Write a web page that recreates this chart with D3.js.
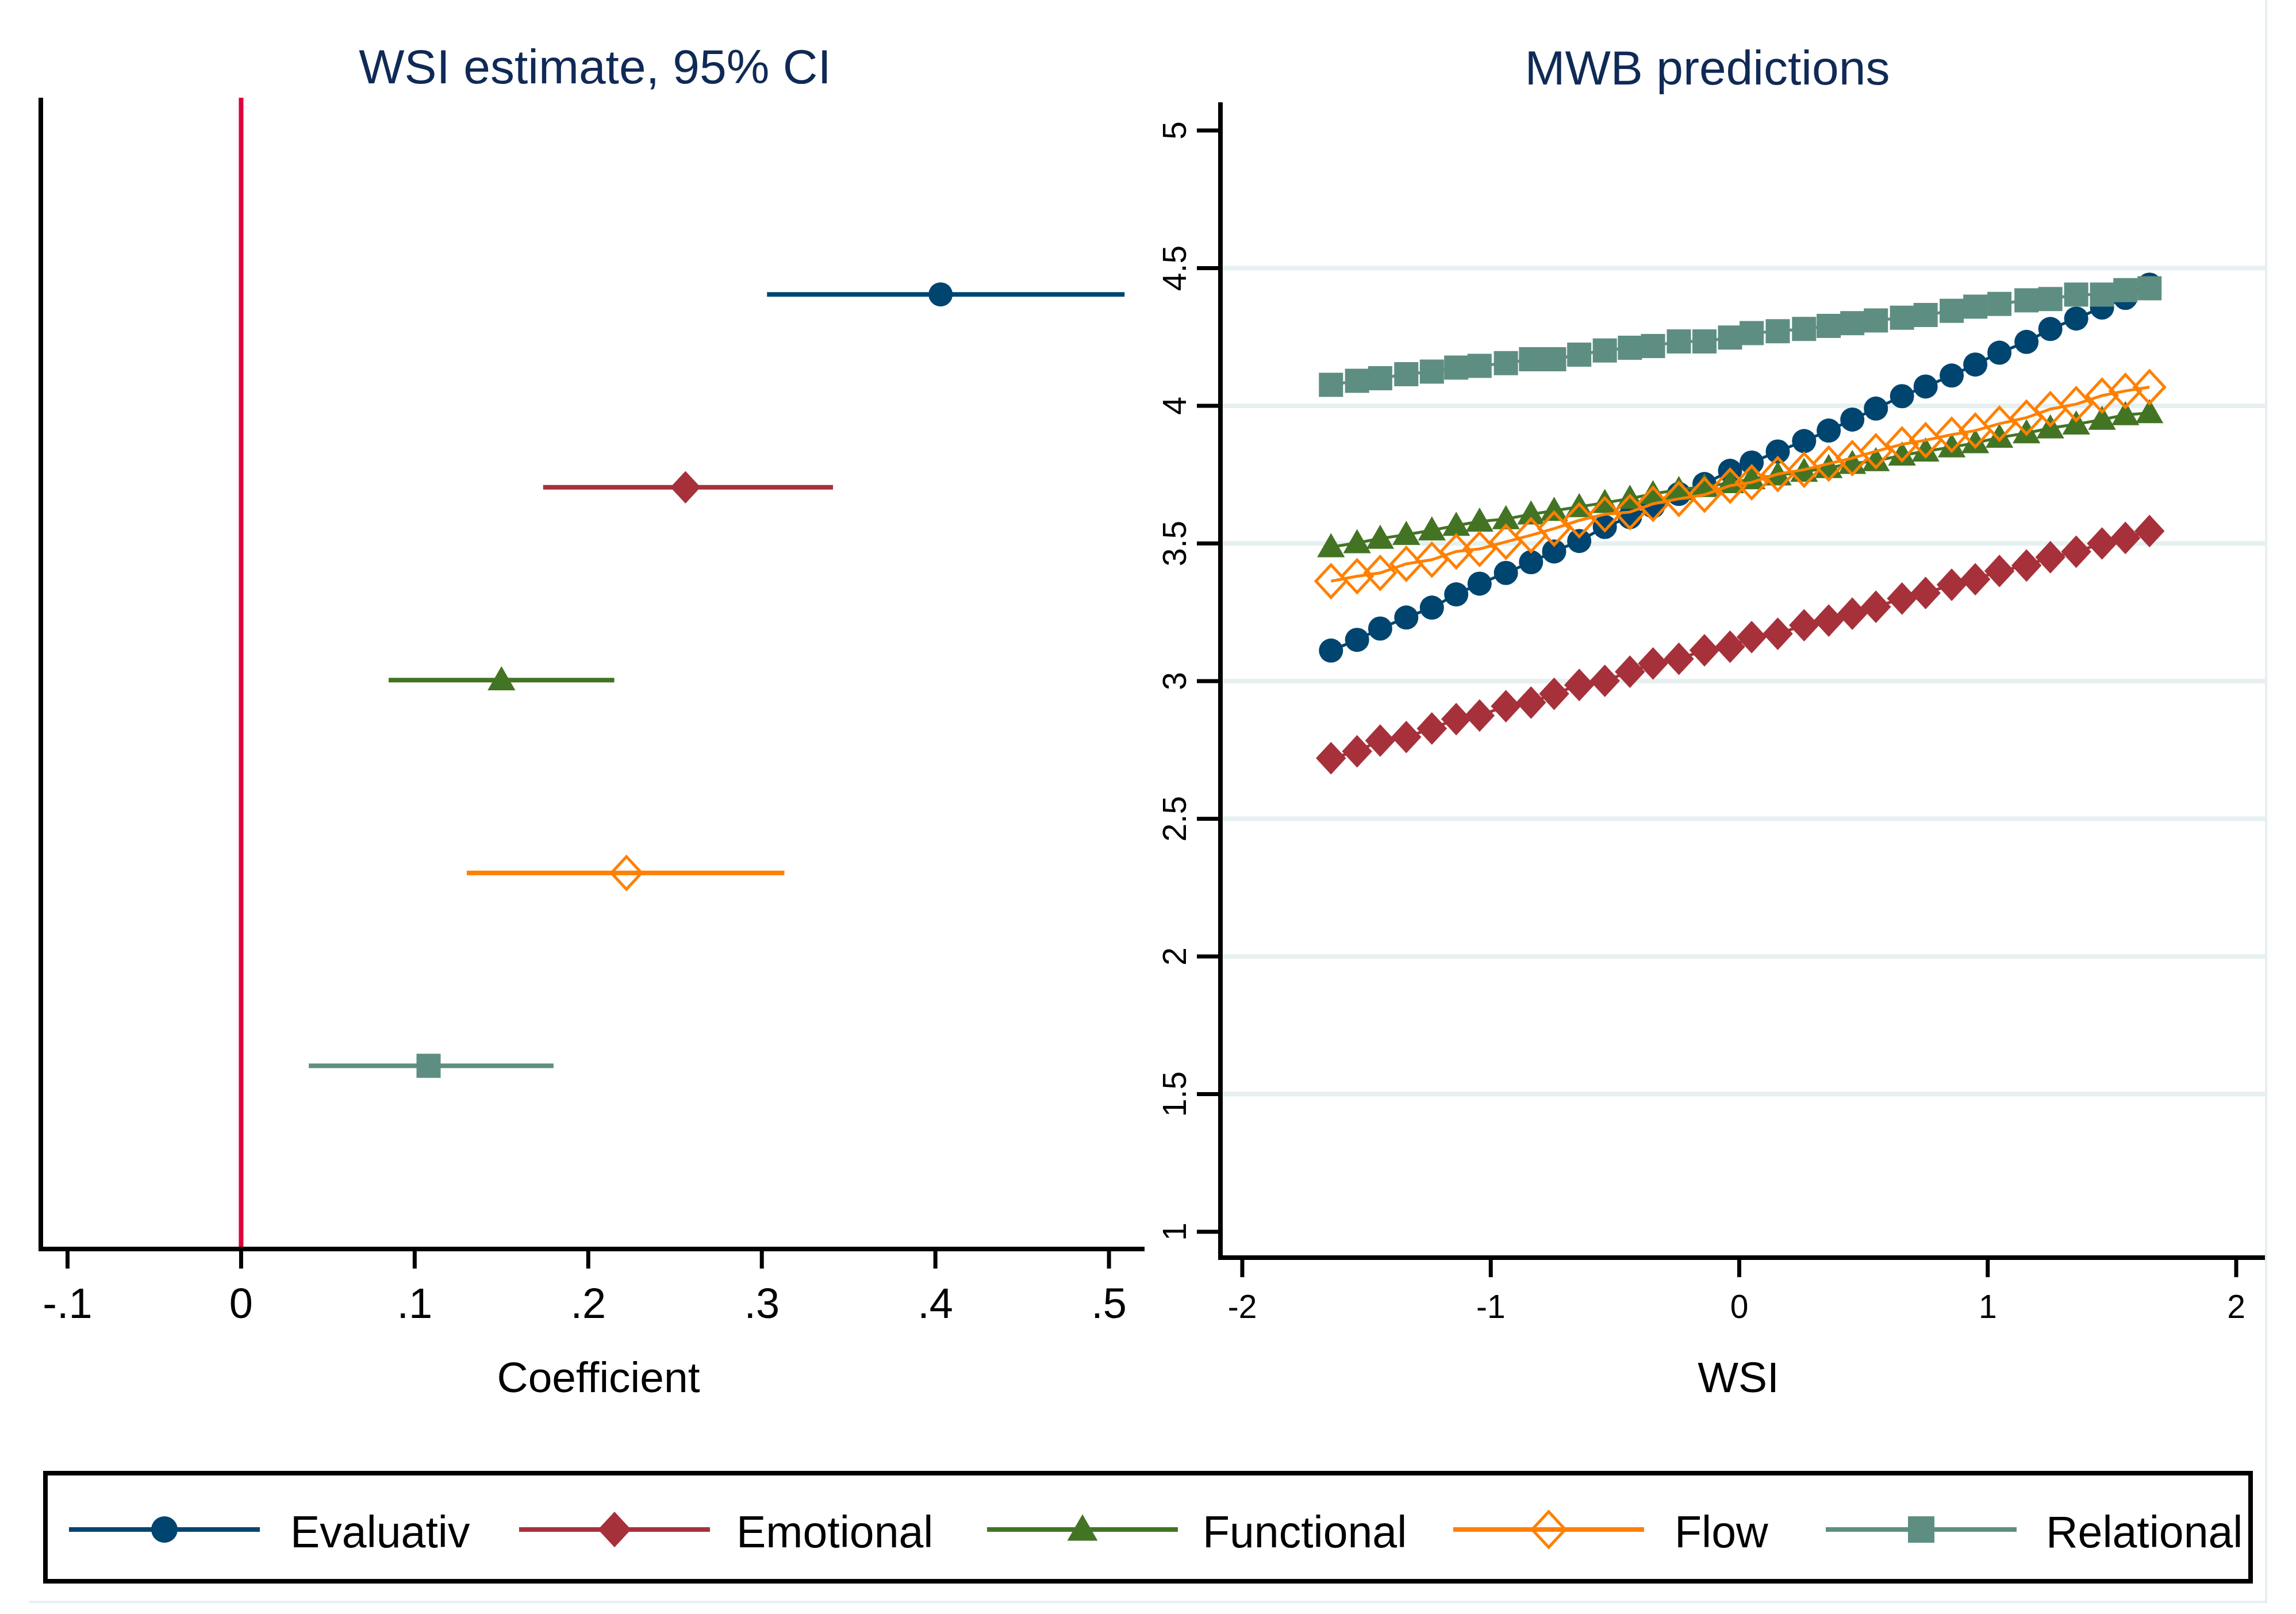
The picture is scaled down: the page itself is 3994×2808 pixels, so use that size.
<!DOCTYPE html>
<html>
<head>
<meta charset="utf-8">
<script src="https://cdn.jsdelivr.net/npm/d3@7"></script>
<style>
  body { margin: 0; background: #fff; }
  text { font-family: "Liberation Sans", Arial, sans-serif; }
</style>
</head>
<body>
<svg id="chart" width="3994" height="2808"></svg>
<script>
const measures = ["Evaluativ", "Emotional", "Functional", "Flow", "Relational"]
const colors = ["#00456f", "#a6313b", "#437424", "#ff8000", "#5e8e82"]
const shapes = ["circle", "diamond", "triangle", "hollow", "square"]

// left panel: WSI coefficient with 95% CI
const coef = [0.403, 0.256, 0.150, 0.222, 0.108]
const ciLow = [0.303, 0.174, 0.085, 0.130, 0.039]
const ciHigh = [0.509, 0.341, 0.215, 0.313, 0.180]
const coefTicks = [-0.1, 0, 0.1, 0.2, 0.3, 0.4, 0.5]

// right panel: predicted MWB over WSI
const wsi = [-1.643, -1.538, -1.445, -1.34, -1.237, -1.139, -1.045, -0.939, -0.838, -0.745,
  -0.644, -0.541, -0.44, -0.347, -0.243, -0.14, -0.037, 0.05, 0.155, 0.261,
  0.36, 0.455, 0.55, 0.655, 0.75, 0.855, 0.95, 1.047, 1.156, 1.252, 1.356, 1.46, 1.554, 1.651]
const evaluativ = [3.111, 3.150, 3.191, 3.231, 3.267, 3.315, 3.354, 3.393, 3.432, 3.471,
  3.509, 3.560, 3.596, 3.635, 3.680, 3.716, 3.764, 3.794, 3.834, 3.872,
  3.91, 3.95, 3.99, 4.035, 4.07, 4.11, 4.15, 4.193, 4.232, 4.279, 4.317, 4.357, 4.392, 4.44]
const emotional = [2.72, 2.745, 2.784, 2.797, 2.828, 2.862, 2.875, 2.909, 2.922, 2.954,
  2.986, 3.001, 3.034, 3.064, 3.081, 3.112, 3.125, 3.16, 3.172, 3.203,
  3.22, 3.245, 3.27, 3.30, 3.32, 3.35, 3.37, 3.40, 3.42, 3.45, 3.47, 3.50, 3.52, 3.545]
const functional = [3.487, 3.502, 3.518, 3.532, 3.548, 3.565, 3.580, 3.589, 3.606, 3.619,
  3.633, 3.648, 3.663, 3.680, 3.695, 3.706, 3.720, 3.734, 3.748, 3.761,
  3.775, 3.79, 3.80, 3.82, 3.835, 3.85, 3.865, 3.885, 3.901, 3.919, 3.933, 3.950, 3.967, 3.974]
const flow = [3.363, 3.381, 3.393, 3.426, 3.441, 3.471, 3.480, 3.506, 3.530, 3.554,
  3.584, 3.606, 3.614, 3.644, 3.662, 3.677, 3.710, 3.722, 3.752, 3.768,
  3.79, 3.81, 3.835, 3.86, 3.875, 3.895, 3.91, 3.935, 3.957, 3.988, 4.006, 4.037, 4.054, 4.068]
const relational = [4.076, 4.091, 4.100, 4.115, 4.124, 4.139, 4.145, 4.155, 4.169, 4.169,
  4.186, 4.201, 4.211, 4.217, 4.234, 4.234, 4.248, 4.264, 4.271, 4.279,
  4.29, 4.30, 4.31, 4.32, 4.33, 4.345, 4.36, 4.37, 4.383, 4.388, 4.404, 4.404, 4.42, 4.427]
const seriesValues = [evaluativ, emotional, functional, flow, relational]
const wsiTicks = [-2, -1, 0, 1, 2]
const mwbTicks = [1, 1.5, 2, 2.5, 3, 3.5, 4, 4.5, 5]

const navy = "#102a56"
const gridColor = "#e6f0f0"

const svg = d3.select("#chart")
svg.append("rect").attr("width", 3994).attr("height", 2808).attr("fill", "#fff")

// marker path around (0,0), s = half size
function markerPath(shape, s) {
  if (shape === "circle") return d3.symbol(d3.symbolCircle, Math.PI * s * s)()
  if (shape === "square") return `M${-s},${-s}H${s}V${s}H${-s}Z`
  if (shape === "triangle") return `M0,${-s * 1.15}L${s * 1.15},${s * 0.85}L${-s * 1.15},${s * 0.85}Z`
  return `M0,${-s * 1.35}L${s * 1.25},0L0,${s * 1.35}L${-s * 1.25},0Z`
}
function drawMarker(g, i, s) {
  const hollow = shapes[i] === "hollow"
  g.append("path")
    .attr("d", markerPath(shapes[i], s))
    .attr("fill", hollow ? "none" : colors[i])
    .attr("stroke", hollow ? colors[i] : "none")
    .attr("stroke-width", hollow ? 5 : 0)
}

// ---------- left panel ----------
const xL = d3.scaleLinear().domain([-0.1154, 0.5205]).range([71, 1991])
const yL = d3.scaleLinear().domain([-0.02, 5.95]).range([170, 2173])
// Stata style labels: -.1, 0, .1 ...
const fmtCoef = d => d === 0 ? "0" : (d < 0 ? "-" : "") + "." + Math.round(Math.abs(d) * 10)

svg.append("text").attr("x", 1035).attr("y", 145).attr("text-anchor", "middle")
  .attr("font-size", 84).attr("fill", navy).text("WSI estimate, 95% CI")

svg.append("line").attr("x1", xL(0)).attr("x2", xL(0)).attr("y1", 170).attr("y2", 2173)
  .attr("stroke", "#e0003a").attr("stroke-width", 8)

const left = svg.append("g")
measures.forEach((m, i) => {
  left.append("line")
    .attr("x1", xL(ciLow[i])).attr("x2", xL(ciHigh[i]))
    .attr("y1", yL(i + 1)).attr("y2", yL(i + 1))
    .attr("stroke", colors[i]).attr("stroke-width", 8)
  const g = left.append("g").attr("transform", `translate(${xL(coef[i])},${yL(i + 1)})`)
  drawMarker(g, i, 21)
})

svg.append("line").attr("x1", 71).attr("x2", 71).attr("y1", 170).attr("y2", 2177)
  .attr("stroke", "#000").attr("stroke-width", 8)
svg.append("line").attr("x1", 67).attr("x2", 1991).attr("y1", 2173).attr("y2", 2173)
  .attr("stroke", "#000").attr("stroke-width", 8)
svg.selectAll(".tickL").data(coefTicks).enter().append("line")
  .attr("x1", d => xL(d)).attr("x2", d => xL(d)).attr("y1", 2177).attr("y2", 2207)
  .attr("stroke", "#000").attr("stroke-width", 7)
svg.selectAll(".labL").data(coefTicks).enter().append("text")
  .attr("x", d => xL(d)).attr("y", 2293).attr("text-anchor", "middle")
  .attr("font-size", 74).text(fmtCoef)
svg.append("text").attr("x", 1041).attr("y", 2422).attr("text-anchor", "middle")
  .attr("font-size", 75).text("Coefficient")

// ---------- right panel ----------
const xR = d3.scaleLinear().domain([-2, 2]).range([2161, 3890])
const yR = d3.scaleLinear().domain([1, 5]).range([2143, 227])

svg.append("text").attr("x", 2970).attr("y", 147).attr("text-anchor", "middle")
  .attr("font-size", 84).attr("fill", navy).text("MWB predictions")

svg.selectAll(".grid").data(mwbTicks.filter(d => d > 1 && d < 5)).enter().append("line")
  .attr("x1", 2127).attr("x2", 3940).attr("y1", d => yR(d)).attr("y2", d => yR(d))
  .attr("stroke", gridColor).attr("stroke-width", 8)

const line = d3.line().x(d => xR(d[0])).y(d => yR(d[1]))
seriesValues.forEach((vals, i) => {
  const pts = wsi.map((x, k) => [x, vals[k]])
  const g = svg.append("g")
  g.append("path").attr("d", line(pts)).attr("fill", "none")
    .attr("stroke", colors[i]).attr("stroke-width", 5)
  pts.forEach(p => {
    const mg = g.append("g").attr("transform", `translate(${xR(p[0])},${yR(p[1])})`)
    drawMarker(mg, i, 21)
  })
})

svg.append("line").attr("x1", 2123).attr("x2", 2123).attr("y1", 178).attr("y2", 2192)
  .attr("stroke", "#000").attr("stroke-width", 8)
svg.append("line").attr("x1", 2119).attr("x2", 3940).attr("y1", 2188).attr("y2", 2188)
  .attr("stroke", "#000").attr("stroke-width", 8)
svg.selectAll(".tickRx").data(wsiTicks).enter().append("line")
  .attr("x1", d => xR(d)).attr("x2", d => xR(d)).attr("y1", 2192).attr("y2", 2222)
  .attr("stroke", "#000").attr("stroke-width", 7)
svg.selectAll(".labRx").data(wsiTicks).enter().append("text")
  .attr("x", d => xR(d)).attr("y", 2293).attr("text-anchor", "middle")
  .attr("font-size", 57).text(d => d)
svg.selectAll(".tickRy").data(mwbTicks).enter().append("line")
  .attr("x1", 2082).attr("x2", 2119).attr("y1", d => yR(d)).attr("y2", d => yR(d))
  .attr("stroke", "#000").attr("stroke-width", 7)
svg.selectAll(".labRy").data(mwbTicks).enter().append("text")
  .attr("transform", d => `translate(2063,${yR(d)}) rotate(-90)`)
  .attr("text-anchor", "middle").attr("font-size", 57).text(d => d)
svg.append("text").attr("x", 3024).attr("y", 2422).attr("text-anchor", "middle")
  .attr("font-size", 75).text("WSI")

// faint outer frame of the combined graph
svg.append("line").attr("x1", 3942).attr("x2", 3942).attr("y1", 0).attr("y2", 2789)
  .attr("stroke", gridColor).attr("stroke-width", 4)
svg.append("line").attr("x1", 50).attr("x2", 3942).attr("y1", 2787).attr("y2", 2787)
  .attr("stroke", gridColor).attr("stroke-width", 4)

// ---------- legend ----------
svg.append("rect").attr("x", 79).attr("y", 2563).attr("width", 3836).attr("height", 188)
  .attr("fill", "#fff").attr("stroke", "#000").attr("stroke-width", 8)
const legX = [120, 903, 1717, 2528, 3176]
const legTextX = [505, 1281, 2092, 2913, 3559]
measures.forEach((m, i) => {
  const g = svg.append("g")
  g.append("line").attr("x1", legX[i]).attr("x2", legX[i] + 332)
    .attr("y1", 2661).attr("y2", 2661).attr("stroke", colors[i]).attr("stroke-width", 8)
  const mg = g.append("g").attr("transform", `translate(${legX[i] + 166},2661)`)
  drawMarker(mg, i, 23)
  g.append("text").attr("x", legTextX[i]).attr("y", 2692).attr("font-size", 77).text(m)
})
</script>
</body>
</html>
